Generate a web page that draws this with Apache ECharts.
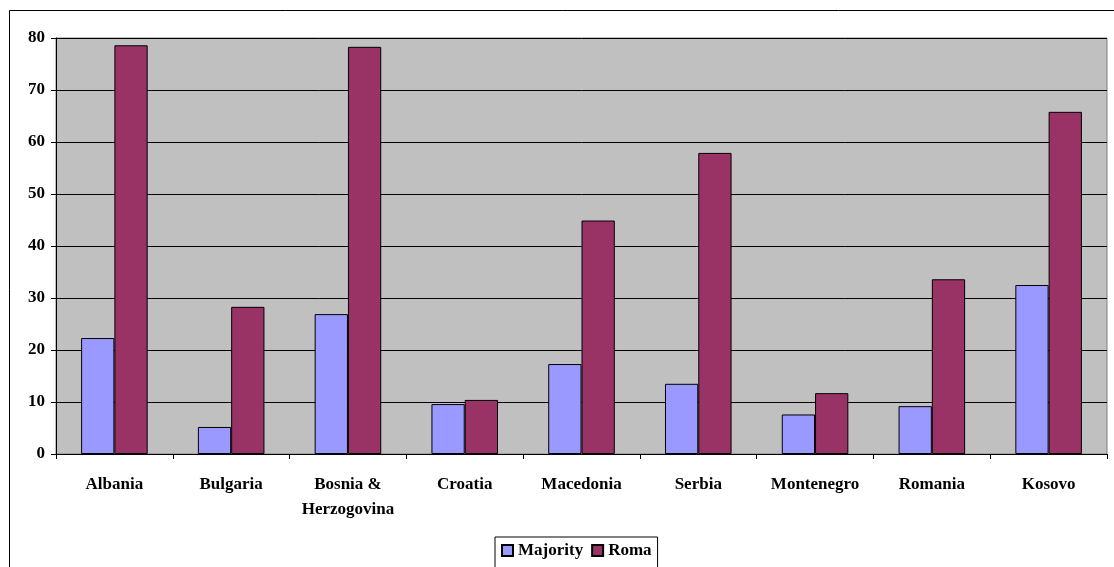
<!DOCTYPE html>
<html><head><meta charset="utf-8">
<script src="https://cdn.jsdelivr.net/npm/echarts@6/dist/echarts.min.js"></script>
<style>html,body{margin:0;padding:0;background:#fff}#c{width:1114px;height:567px}</style>
</head><body><div id="c"></div>
<script>
const categories = ['Albania','Bulgaria','Bosnia &\nHerzogovina','Croatia','Macedonia','Serbia','Montenegro','Romania','Kosovo'];
const majority = [22.3, 5.2, 26.9, 9.6, 17.3, 13.5, 7.6, 9.2, 32.5];
const roma = [78.6, 28.3, 78.3, 10.4, 44.9, 57.9, 11.7, 33.6, 65.8];
const yTicks = {min: 0, max: 80, interval: 10};

const font = '"Liberation Serif","Times New Roman",serif';
const chart = echarts.init(document.getElementById('c'));
chart.setOption({
  animation: false,
  textStyle: {fontFamily: font},
  graphic: [{type: 'rect', shape: {x: 9.5, y: 10.5, width: 1200, height: 700}, style: {fill: 'none', stroke: '#000', lineWidth: 1}, z: -10}],
  grid: {left: 56, right: 7, top: 38, bottom: 113, show: true, backgroundColor: '#C0C0C0', borderColor: '#808080', borderWidth: 1},
  legend: {
    left: 495, top: 537, itemWidth: 11, itemHeight: 11, itemGap: 8,
    padding: [5, 6, 10, 6],
    borderColor: '#000', borderWidth: 1, backgroundColor: '#fff',
    textStyle: {fontFamily: font, fontWeight: 'bold', fontSize: 17, color: '#000'},
    icon: 'rect',
    data: ['Majority', 'Roma']
  },
  xAxis: {
    type: 'category', data: categories,
    axisLine: {lineStyle: {color: '#000', width: 1}},
    axisTick: {show: true, length: 5, lineStyle: {color: '#000'}},
    axisLabel: {fontFamily: font, fontWeight: 'bold', fontSize: 17, color: '#000', margin: 18, lineHeight: 25, interval: 0}
  },
  yAxis: {
    type: 'value', min: yTicks.min, max: yTicks.max, interval: yTicks.interval,
    axisLine: {show: true, lineStyle: {color: '#000', width: 1}},
    axisTick: {show: true, length: 5, lineStyle: {color: '#000'}},
    axisLabel: {fontFamily: font, fontWeight: 'bold', fontSize: 17, color: '#000', margin: 11},
    splitLine: {lineStyle: {color: '#000', width: 1}}
  },
  series: [
    {name: 'Majority', type: 'bar', data: majority, barGap: '0%', barCategoryGap: '43%',
     itemStyle: {color: '#9999FF', borderColor: '#000', borderWidth: 1}},
    {name: 'Roma', type: 'bar', data: roma,
     itemStyle: {color: '#993366', borderColor: '#000', borderWidth: 1}}
  ]
});
</script></body></html>
